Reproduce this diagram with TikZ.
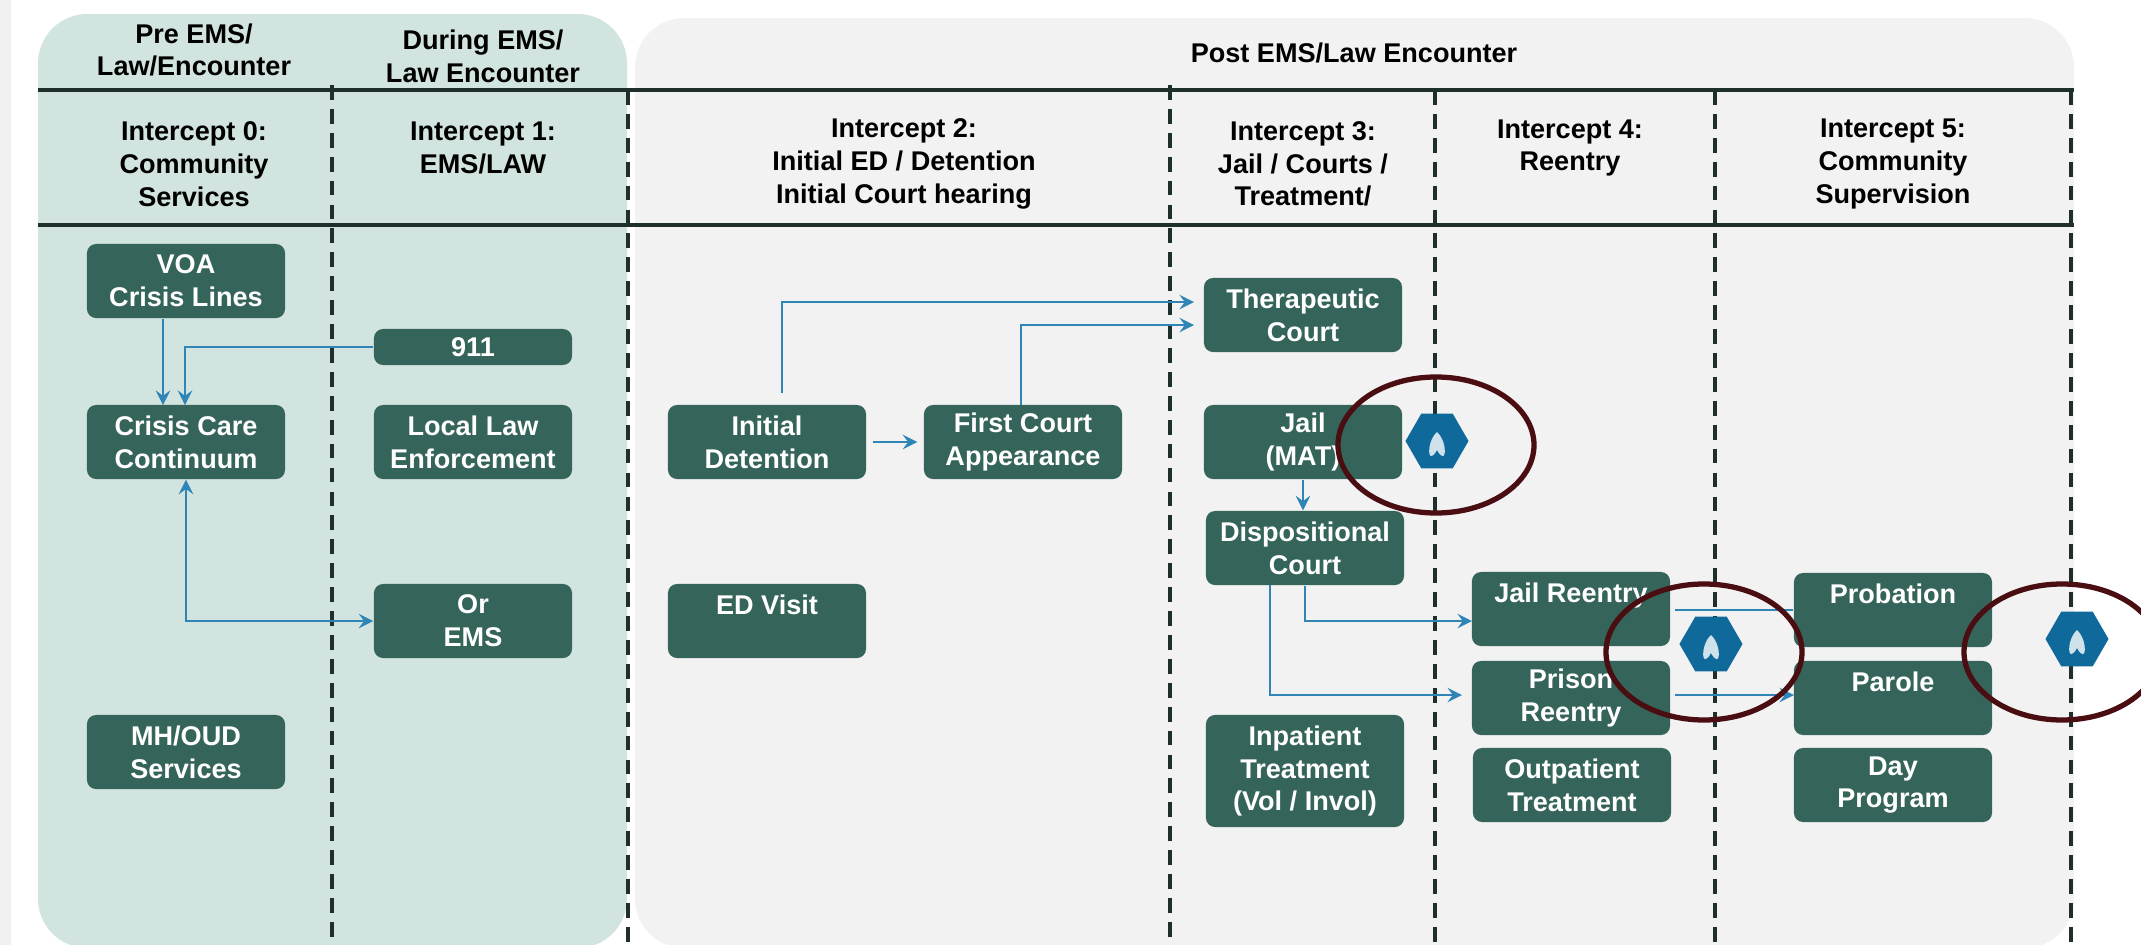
\documentclass[tikz,border=0pt]{standalone}
\usepackage{fontspec}
\setmainfont{Liberation Sans}
\usetikzlibrary{shapes.geometric}

\definecolor{panelgreen}{HTML}{D2E4DF}
\definecolor{panelgray}{HTML}{F2F2F2}
\definecolor{stripgray}{HTML}{EEF1EE}
\definecolor{boxgreen}{HTML}{35645A}
\definecolor{rulegreen}{HTML}{1F2F2C}
\definecolor{linkblue}{HTML}{2F85B5}
\definecolor{hexblue}{HTML}{0F6A9B}
\definecolor{ringred}{HTML}{4A0E12}

\tikzset{
  stagebox/.style={fill=boxgreen,text=white,rounded corners=2.6pt,minimum width=1.98cm,minimum height=0.74cm,inner sep=0pt,align=center,font=\bfseries\fontsize{7.7}{9.3}\selectfont},
  headtext/.style={text=black,align=center,inner sep=0pt,font=\bfseries\fontsize{7.7}{9.3}\selectfont},
  colline/.style={rulegreen,line width=1.1pt,dash pattern=on 4.2pt off 2.6pt},
  rowline/.style={rulegreen,line width=1.1pt},
  link/.style={linkblue,line width=0.8pt,->,>=stealth,arrows={->[scale=0.75]}},
  hexmark/.style={regular polygon,regular polygon sides=6,fill=hexblue,minimum size=0.63cm,inner sep=0pt},
  ring/.style={ringred,line width=1.5pt},
}

\begin{document}
\begin{tikzpicture}[x=0.01cm,y=-0.01cm]
\useasboundingbox (0,0) rectangle (2141,945);
\clip (0,0) rectangle (2141,945);

\fill[stripgray] (0,0) rectangle (11,945);
\fill[panelgreen,rounded corners=14pt] (38,14) rectangle (627,948);
\fill[panelgray,rounded corners=14pt] (635,18) rectangle (2074,948);

\draw[rowline] (38,90) -- (2074,90);
\draw[rowline] (38,225) -- (2074,225);

\draw[colline,line width=0.95pt] (332,85) -- (332,945);
\draw[colline] (628,90) -- (628,945);
\draw[colline,line width=0.95pt] (1170,85) -- (1170,945);
\draw[colline] (1435,90) -- (1435,945);
\draw[colline] (1715,90) -- (1715,945);
\draw[colline] (2071,90) -- (2071,945);

\node[headtext] (pre) at (194,50) {Pre EMS/\\Law/Encounter};
\node[headtext] (during) at (483,56) {During EMS/\\Law Encounter};
\node[headtext] (post) at (1354,53) {Post EMS/Law Encounter};

\node[headtext] (zero) at (194,164) {Intercept 0:\\Community\\Services};
\node[headtext] (one) at (483,148) {Intercept 1:\\EMS/LAW};
\node[headtext] (two) at (904,164) {Intercept 2:\\Initial ED / Detention\\Initial Court hearing};
\node[headtext] (three) at (1303,164) {Intercept 3:\\Jail / Courts /\\Treatment/};
\node[headtext] (four) at (1570,148) {Intercept 4:\\Reentry};
\node[headtext] (five) at (1893,164) {Intercept 5:\\Community\\Supervision};

\node[stagebox] (voa) at (186,281) {VOA\\Crisis Lines};
\node[stagebox,minimum height=0.36cm] (nineone) at (473,347) {911};
\node[stagebox] (crisis) at (186,442) {Crisis Care\\Continuum};
\node[stagebox] (locallaw) at (473,442) {Local Law\\Enforcement};
\node[stagebox] (ems) at (473,621) {Or\\EMS};
\node[stagebox] (mhoud) at (186,752) {MH/OUD\\Services};

\node[stagebox] (detention) at (767,442) {Initial\\Detention};
\node[stagebox] (firstcourt) at (1023,442) {First Court\\Appearance};
\node[stagebox] (edvisit) at (767,621) {ED Visit\\\mbox{}};

\node[stagebox] (therapeutic) at (1303,315) {Therapeutic\\Court};
\node[stagebox] (jail) at (1303,442) {Jail\\(MAT)};
\node[stagebox] (dispo) at (1305,548) {Dispositional\\Court};
\node[stagebox,minimum height=1.12cm] (inpatient) at (1305,771) {Inpatient\\Treatment\\(Vol / Invol)};

\node[stagebox] (jailre) at (1571,609) {Jail Reentry\\\mbox{}};
\node[stagebox] (prisonre) at (1571,698) {Prison\\Reentry};
\node[stagebox] (outpatient) at (1572,785) {Outpatient\\Treatment};

\node[stagebox] (probation) at (1893,610) {Probation\\\mbox{}};
\node[stagebox] (parole) at (1893,698) {Parole\\\mbox{}};
\node[stagebox] (dayprog) at (1893,785) {Day\\Program};

\coordinate (crisisa) at (163,405);
\coordinate (crisisb) at (185,405);
\coordinate (detup) at (782,393);
\coordinate (firstup) at (1021,405);
\coordinate (therina) at (1194,302);
\coordinate (therinb) at (1194,325);
\coordinate (dispoa) at (1270,585);
\coordinate (jailin) at (1472,621);
\coordinate (prisonin) at (1462,695);
\coordinate (jailout) at (1675,610);
\coordinate (prisonout) at (1675,695);
\coordinate (parolein) at (1794,695);

\draw[link] (voa.south -| crisisa) -- (crisisa);
\draw[link] (nineone.west) -| (crisisb);
\draw[link,<->,arrows={<[scale=0.75]->[scale=0.75]}] (crisis.south) |- (ems.west);
\draw[link] (detup) |- (therina);
\draw[link] (firstup) |- (therinb);
\draw[link,shorten <=1.7pt,shorten >=1.7pt] (detention.east) -- (firstcourt.west);
\draw[link] (jail.south) -- (dispo.north -| jail.south);
\draw[link] (dispo.south) |- (jailin);
\draw[link] (dispoa) |- (prisonin);
\draw[linkblue,line width=0.8pt] (jailout) -- (probation.west);
\draw[link] (prisonout) -- (parolein);

\node[hexmark] (hexa) at (1437,441) {};
\node[hexmark] (hexb) at (1711,644) {};
\node[hexmark] (hexc) at (2077,639) {};

\fill[white!80!hexblue] ([shift={(0,-9)}]hexa.center) .. controls +(11,10) and +(10,18) .. +(0,18) .. controls +(-10,18) and +(-11,10) .. cycle;
\fill[white!80!hexblue] ([shift={(0,-9)}]hexb.center) .. controls +(11,10) and +(10,18) .. +(0,18) .. controls +(-10,18) and +(-11,10) .. cycle;
\fill[white!80!hexblue] ([shift={(0,-9)}]hexc.center) .. controls +(11,10) and +(10,18) .. +(0,18) .. controls +(-10,18) and +(-11,10) .. cycle;

\draw[ring] (1436,445) ellipse (98 and 68);
\draw[ring] (1704,652) ellipse (98 and 68);
\draw[ring] (2062,652) ellipse (98 and 68);

\end{tikzpicture}
\end{document}
